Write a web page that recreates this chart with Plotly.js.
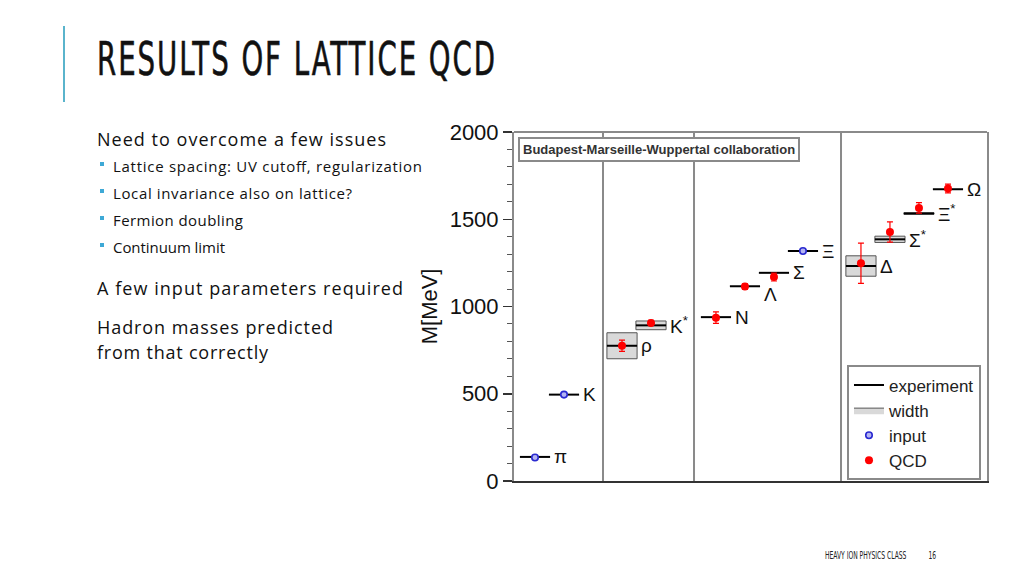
<!DOCTYPE html>
<html><head><meta charset="utf-8">
<script src="https://cdn.plot.ly/plotly-3.0.1.min.js"></script>
<style>
html,body{margin:0;padding:0;background:#fff;}
body{width:1024px;height:576px;overflow:hidden;position:relative;}
#chart{position:absolute;left:0;top:0;width:1024px;height:576px;}
#overlay{position:absolute;left:0;top:0;width:1024px;height:576px;pointer-events:none;}
</style></head><body>
<div id="chart"></div>
<svg id="overlay" width="1024" height="576" xmlns="http://www.w3.org/2000/svg">
  <rect x="63" y="26" width="2" height="76" fill="#5ab4cc"/>
  <text x="97" y="75" font-family="'Liberation Sans Narrow','DejaVu Sans Condensed',sans-serif" font-size="47" fill="#111" stroke="#111" stroke-width="0.6" textLength="400" lengthAdjust="spacingAndGlyphs" letter-spacing="3">RESULTS OF LATTICE QCD</text>
  <g font-family="'Open Sans',sans-serif" fill="#111">
    <text x="97" y="146" font-size="18" textLength="289" lengthAdjust="spacing">Need to overcome a few issues</text>
    <rect x="100" y="162" width="4" height="4" fill="#3ea9d6"/>
    <text x="113" y="171.7" font-size="15" textLength="309" lengthAdjust="spacing">Lattice spacing: UV cutoff, regularization</text>
    <rect x="100" y="189" width="4" height="4" fill="#3ea9d6"/>
    <text x="113" y="199" font-size="15" textLength="239" lengthAdjust="spacing">Local invariance also on lattice?</text>
    <rect x="100" y="216" width="4" height="4" fill="#3ea9d6"/>
    <text x="113" y="226" font-size="15" textLength="130" lengthAdjust="spacing">Fermion doubling</text>
    <rect x="100" y="243" width="4" height="4" fill="#3ea9d6"/>
    <text x="113" y="253.3" font-size="15" textLength="112" lengthAdjust="spacing">Continuum limit</text>
    <text x="97" y="295" font-size="18" textLength="306" lengthAdjust="spacing">A few input parameters required</text>
    <text x="97" y="334" font-size="18" textLength="236" lengthAdjust="spacing">Hadron masses predicted</text>
    <text x="97" y="359.3" font-size="18" textLength="171" lengthAdjust="spacing">from that correctly</text>
  </g>
  <g font-family="'Liberation Sans Narrow','DejaVu Sans Condensed',sans-serif" fill="#222" font-size="6.7">
    <g transform="translate(825,559) scale(1,1.45)"><text x="0" y="0">HEAVY ION PHYSICS CLASS</text></g>
    <g transform="translate(928.5,559) scale(1,1.45)"><text x="0" y="0">16</text></g>
  </g>
</svg>
<script>
// ---- data ----
const particles = ['π','K','ρ','K<sup>*</sup>','N','Λ','Σ','Ξ','Δ','Σ<sup>*</sup>','Ξ<sup>*</sup>','Ω'];
const slot      = [0, 1, 3, 4, 6.24, 7.24, 8.24, 9.24, 11.24, 12.24, 13.24, 14.24];
const expMass   = [138, 495, 775, 892, 939, 1116, 1193, 1318, 1232, 1385, 1533, 1672];
const expWidth  = [0, 0, 149, 50, 0, 0, 0, 0, 117, 36, 9, 0];
const inputMass = [135, 495, null, null, null, null, null, 1318, null, null, null, null];
const qcdMass   = [null, null, 775, 906, 936, 1114, 1169, null, 1248, 1427, 1565, 1676];
const qcdErr    = [null, null, 32, 15, 33, 16, 23, null, 115, 58, 30, 25];
const groupBounds = [2.345, 5.483, 10.552];
const yTicks = [0, 500, 1000, 1500, 2000];
const legendNames = ['experiment', 'width', 'input', 'QCD'];
const collab = 'Budapest-Marseille-Wuppertal collaboration';
const yTitle = 'M[MeV]';

// ---- styles ----
const HALF = 0.52;
const labelYShift = [0,0,0,0,0,-8,0,0,0,0,0,0];
const FONT = 'Liberation Sans, Arial, sans-serif';

// experiment segments
const ex = [], ey = [];
slot.forEach((s, i) => { ex.push(s - HALF, s + HALF, null); ey.push(expMass[i], expMass[i], null); });
// width boxes
const bx = [], by = [];
slot.forEach((s, i) => {
  if (expWidth[i] > 0) {
    const lo = expMass[i] - expWidth[i] / 2, hi = expMass[i] + expWidth[i] / 2;
    bx.push(s - HALF, s + HALF, s + HALF, s - HALF, s - HALF, null);
    by.push(lo, lo, hi, hi, lo, null);
  }
});

const traces = [
  {x: bx, y: by, mode: 'lines', fill: 'toself', fillcolor: '#d9d9d9',
   line: {color: '#555', width: 1}, name: legendNames[1], legendrank: 2, hoverinfo: 'skip'},
  {x: ex, y: ey, mode: 'lines', line: {color: '#000', width: 2},
   name: legendNames[0], legendrank: 1, hoverinfo: 'skip'},
  {x: slot, y: inputMass, mode: 'markers', name: legendNames[2], legendrank: 3,
   marker: {symbol: 'circle', size: 6.5, color: '#b4b4f2', line: {color: '#2a2ad0', width: 1.6}}},
  {x: slot, y: qcdMass, mode: 'markers', name: legendNames[3], legendrank: 4,
   marker: {symbol: 'circle', size: 8, color: '#ff0000'},
   error_y: {type: 'data', array: qcdErr, visible: true, color: '#ff0000', thickness: 1.2, width: 3}}
];

const annotations = particles.map((p, i) => ({
  x: slot[i], y: expMass[i], xref: 'x', yref: 'y', text: p, showarrow: false,
  xanchor: 'left', yanchor: 'middle', xshift: 17, yshift: labelYShift[i],
  font: {family: FONT, size: 19, color: '#111'}
}));
annotations.push({
  x: 0.008, y: 0.986, xref: 'paper', yref: 'paper', xanchor: 'left', yanchor: 'top',
  text: collab, showarrow: false, bgcolor: '#fff', bordercolor: '#8a8a8a', borderwidth: 2, borderpad: 3,
  font: {family: FONT, size: 13, color: '#333', weight: 'bold'}
});
annotations.push({
  x: -0.178, y: 0.5, xref: 'paper', yref: 'paper', xanchor: 'center', yanchor: 'middle',
  text: yTitle, textangle: -90, showarrow: false,
  font: {family: FONT, size: 22, color: '#111'}
});

const shapes = groupBounds.map(b => ({
  type: 'line', xref: 'x', yref: 'paper', x0: b, x1: b, y0: 0, y1: 1,
  line: {color: '#8a8a8a', width: 2}
}));
shapes.push({type: 'line', xref: 'paper', yref: 'paper', x0: 0, x1: 1, y0: 1, y1: 1,
  line: {color: '#8a8a8a', width: 2}});

const layout = {
  width: 1024, height: 576,
  margin: {l: 514, r: 37, t: 132, b: 95, pad: 0},
  paper_bgcolor: 'rgba(0,0,0,0)', plot_bgcolor: '#fff',
  showlegend: true,
  legend: {x: 0.704, y: 0.331, xanchor: 'left', yanchor: 'top', bgcolor: '#fff',
    bordercolor: '#8a8a8a', borderwidth: 2, font: {family: FONT, size: 17, color: '#222'},
    itemwidth: 30, tracegroupgap: 0},
  xaxis: {range: [-0.724, 15.586], showticklabels: false, ticks: '', showgrid: false, zeroline: false,
    showline: true, linecolor: '#333', linewidth: 2, mirror: false, fixedrange: true},
  yaxis: {range: [0, 2000], tickvals: yTicks, ticks: 'outside', ticklen: 9, tickwidth: 1.5, tickcolor: '#333',
    showgrid: false, zeroline: false, showline: true, linecolor: '#8a8a8a', linewidth: 2, mirror: true,
    tickfont: {family: FONT, size: 22, color: '#111'},
    minor: {dtick: 100, ticks: 'outside', ticklen: 5, tickcolor: '#555', tickwidth: 1, showgrid: false}},
  annotations: annotations,
  shapes: shapes
};

Plotly.newPlot('chart', traces, layout, {staticPlot: true, displayModeBar: false});
</script>
</body></html>
